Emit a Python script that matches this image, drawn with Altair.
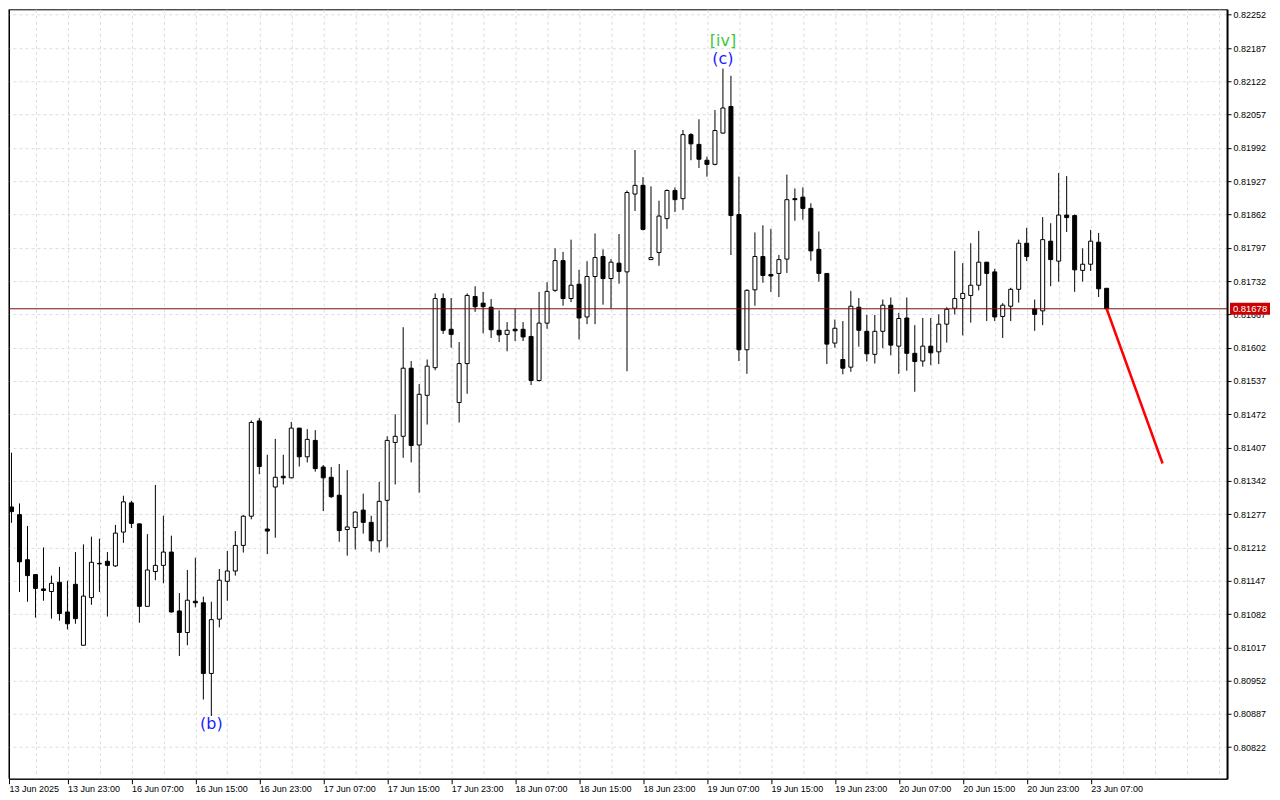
import altair as alt
import pandas as pd

# ---------------- data (hourly bars) ----------------
bar_index = list(range(0, 138))  # bar 0 = 13 Jun 16:00

opens = [
    0.81291, 0.81276, 0.81188, 0.81159, 0.81131, 0.81126, 0.81144, 0.81086, 0.81140, 0.81021,
    0.81114, 0.81181, 0.81185, 0.81176, 0.81242, 0.81299, 0.81258, 0.81097, 0.81165, 0.81177,
    0.81203, 0.81088, 0.81046, 0.81107, 0.81104, 0.80966, 0.81072, 0.81146, 0.81166, 0.81216,
    0.81273, 0.81459, 0.81248, 0.81330, 0.81351, 0.81348, 0.81445, 0.81389, 0.81421, 0.81369,
    0.81349, 0.81314, 0.81247, 0.81251, 0.81285, 0.81261, 0.81225, 0.81304, 0.81417, 0.81429,
    0.81562, 0.81412, 0.81509, 0.81563, 0.81698, 0.81638, 0.81495, 0.81571, 0.81702, 0.81689,
    0.81681, 0.81636, 0.81628, 0.81638, 0.81638, 0.81624, 0.81538, 0.81650, 0.81714, 0.81772,
    0.81698, 0.81726, 0.81662, 0.81741, 0.81780, 0.81737, 0.81767, 0.81750, 0.81902, 0.81919,
    0.81774, 0.81788, 0.81854, 0.81909, 0.81893, 0.82018, 0.81999, 0.81968, 0.81960, 0.82021,
    0.82073, 0.81862, 0.81598, 0.81715, 0.81780, 0.81745, 0.81747, 0.81775, 0.81893, 0.81896,
    0.81874, 0.81794, 0.81747, 0.81611, 0.81579, 0.81564, 0.81681, 0.81634, 0.81589, 0.81634,
    0.81685, 0.81605, 0.81660, 0.81591, 0.81576, 0.81605, 0.81594, 0.81648, 0.81679, 0.81698,
    0.81704, 0.81724, 0.81769, 0.81750, 0.81663, 0.81683, 0.81716, 0.81806, 0.81678, 0.81674,
    0.81810, 0.81771, 0.81861, 0.81860, 0.81753, 0.81765, 0.81808, 0.81718,
]
highs = [
    0.81397, 0.81298, 0.81254, 0.81160, 0.81212, 0.81157, 0.81174, 0.81147, 0.81203, 0.81218,
    0.81233, 0.81229, 0.81203, 0.81256, 0.81313, 0.81303, 0.81259, 0.81238, 0.81334, 0.81274,
    0.81235, 0.81123, 0.81168, 0.81192, 0.81116, 0.81106, 0.81170, 0.81205, 0.81244, 0.81275,
    0.81460, 0.81465, 0.81393, 0.81424, 0.81393, 0.81457, 0.81445, 0.81443, 0.81441, 0.81373,
    0.81369, 0.81375, 0.81363, 0.81283, 0.81317, 0.81274, 0.81340, 0.81429, 0.81472, 0.81642,
    0.81576, 0.81531, 0.81579, 0.81708, 0.81708, 0.81699, 0.81613, 0.81708, 0.81722, 0.81711,
    0.81697, 0.81675, 0.81652, 0.81678, 0.81652, 0.81678, 0.81711, 0.81730, 0.81796, 0.81789,
    0.81813, 0.81754, 0.81771, 0.81825, 0.81794, 0.81775, 0.81824, 0.81909, 0.81988, 0.81935,
    0.81917, 0.81889, 0.81911, 0.81915, 0.82027, 0.82021, 0.82048, 0.81975, 0.82066, 0.82147,
    0.82133, 0.81936, 0.81716, 0.81827, 0.81841, 0.81834, 0.81783, 0.81940, 0.81913, 0.81915,
    0.81884, 0.81829, 0.81747, 0.81657, 0.81654, 0.81713, 0.81699, 0.81666, 0.81666, 0.81696,
    0.81700, 0.81670, 0.81700, 0.81646, 0.81660, 0.81660, 0.81667, 0.81681, 0.81791, 0.81767,
    0.81806, 0.81830, 0.81769, 0.81756, 0.81689, 0.81719, 0.81813, 0.81836, 0.81696, 0.81857,
    0.81845, 0.81943, 0.81937, 0.81862, 0.81796, 0.81832, 0.81826, 0.81718,
]
lows = [
    0.81260, 0.81125, 0.81106, 0.81075, 0.81108, 0.81073, 0.81069, 0.81052, 0.81063, 0.81021,
    0.81100, 0.81125, 0.81077, 0.81174, 0.81221, 0.81250, 0.81065, 0.81097, 0.81148, 0.81142,
    0.81085, 0.81000, 0.81021, 0.81095, 0.80915, 0.80883, 0.81056, 0.81108, 0.81157, 0.81202,
    0.81267, 0.81355, 0.81199, 0.81231, 0.81335, 0.81347, 0.81370, 0.81378, 0.81360, 0.81283,
    0.81309, 0.81223, 0.81196, 0.81208, 0.81239, 0.81204, 0.81202, 0.81212, 0.81335, 0.81387,
    0.81378, 0.81319, 0.81452, 0.81558, 0.81629, 0.81602, 0.81456, 0.81512, 0.81672, 0.81630,
    0.81621, 0.81613, 0.81595, 0.81615, 0.81615, 0.81529, 0.81536, 0.81639, 0.81711, 0.81684,
    0.81691, 0.81618, 0.81648, 0.81648, 0.81686, 0.81678, 0.81727, 0.81556, 0.81869, 0.81831,
    0.81774, 0.81762, 0.81834, 0.81867, 0.81871, 0.81968, 0.81953, 0.81936, 0.81958, 0.82020,
    0.81783, 0.81576, 0.81551, 0.81684, 0.81729, 0.81711, 0.81701, 0.81748, 0.81850, 0.81852,
    0.81772, 0.81731, 0.81570, 0.81602, 0.81550, 0.81555, 0.81604, 0.81575, 0.81571, 0.81601,
    0.81587, 0.81551, 0.81557, 0.81516, 0.81565, 0.81568, 0.81570, 0.81612, 0.81667, 0.81626,
    0.81651, 0.81714, 0.81654, 0.81654, 0.81621, 0.81654, 0.81690, 0.81771, 0.81635, 0.81646,
    0.81722, 0.81731, 0.81828, 0.81711, 0.81731, 0.81752, 0.81701, 0.81678,
]
closes = [
    0.81282, 0.81184, 0.81157, 0.81132, 0.81128, 0.81142, 0.81083, 0.81063, 0.81073, 0.81117,
    0.81183, 0.81180, 0.81177, 0.81240, 0.81301, 0.81259, 0.81097, 0.81168, 0.81177, 0.81203,
    0.81086, 0.81046, 0.81109, 0.81104, 0.80966, 0.81071, 0.81148, 0.81166, 0.81216, 0.81273,
    0.81456, 0.81370, 0.81244, 0.81349, 0.81348, 0.81445, 0.81389, 0.81423, 0.81366, 0.81348,
    0.81311, 0.81245, 0.81252, 0.81281, 0.81261, 0.81225, 0.81302, 0.81421, 0.81429, 0.81562,
    0.81411, 0.81511, 0.81566, 0.81698, 0.81636, 0.81628, 0.81571, 0.81704, 0.81682, 0.81682,
    0.81637, 0.81627, 0.81636, 0.81635, 0.81623, 0.81538, 0.81650, 0.81712, 0.81772, 0.81698,
    0.81724, 0.81660, 0.81741, 0.81778, 0.81737, 0.81769, 0.81751, 0.81905, 0.81919, 0.81833,
    0.81778, 0.81859, 0.81909, 0.81891, 0.82018, 0.82000, 0.81970, 0.81960, 0.82026, 0.82070,
    0.81860, 0.81598, 0.81714, 0.81780, 0.81743, 0.81742, 0.81774, 0.81891, 0.81891, 0.81874,
    0.81791, 0.81747, 0.81609, 0.81640, 0.81562, 0.81683, 0.81636, 0.81590, 0.81634, 0.81685,
    0.81607, 0.81659, 0.81591, 0.81575, 0.81605, 0.81592, 0.81648, 0.81677, 0.81698, 0.81708,
    0.81724, 0.81769, 0.81747, 0.81662, 0.81685, 0.81716, 0.81806, 0.81780, 0.81667, 0.81813,
    0.81774, 0.81861, 0.81856, 0.81754, 0.81765, 0.81810, 0.81717, 0.81678,
]

# time axis labels (bar index of each label)
time_tick_bars = [-0.3125, 7, 15, 23, 31, 39, 47, 55, 63, 71, 79, 87, 95, 103, 111, 119, 127, 135]
time_tick_labels = [
    "13 Jun 2025", "13 Jun 23:00", "16 Jun 07:00", "16 Jun 15:00", "16 Jun 23:00",
    "17 Jun 07:00", "17 Jun 15:00", "17 Jun 23:00", "18 Jun 07:00", "18 Jun 15:00",
    "18 Jun 23:00", "19 Jun 07:00", "19 Jun 15:00", "19 Jun 23:00", "20 Jun 07:00",
    "20 Jun 15:00", "20 Jun 23:00", "23 Jun 07:00",
]
grid_bars = list(range(3, 152, 4))

price_ticks = [
    0.82252, 0.82187, 0.82122, 0.82057, 0.81992, 0.81927, 0.81862, 0.81797, 0.81732,
    0.81667, 0.81602, 0.81537, 0.81472, 0.81407, 0.81342, 0.81277, 0.81212, 0.81147,
    0.81082, 0.81017, 0.80952, 0.80887, 0.80822,
]

last_price = [0.81678]

forecast_bars = [137, 144]
forecast_prices = [0.81678, 0.81376]

wave_bars = [25, 89, 89]
wave_prices = [0.80868, 0.82200, 0.82165]
wave_texts = ["(b)", "[iv]", "(c)"]
wave_colors = ["#1c1cff", "#3cc83c", "#1c1cff"]

# ---------------- tables ----------------
candles = pd.DataFrame({"k": bar_index, "open": opens, "high": highs,
                        "low": lows, "close": closes})
last_df = pd.DataFrame({"price": last_price, "label": ["%.5f" % p for p in last_price]})
forecast_df = pd.DataFrame({"k": forecast_bars, "price": forecast_prices})
wave_df = pd.DataFrame({"k": wave_bars, "price": wave_prices,
                        "text": wave_texts, "color": wave_colors})

# ---------------- scales / axes ----------------
X_MIN, X_MAX = -0.3125, 152.0625
xscale = alt.Scale(domain=[X_MIN, X_MAX], nice=False, zero=False, padding=0)
yscale = alt.Scale(domain=[0.807605, 0.822627], nice=False, zero=False, padding=0)

label_expr = ""
for b, t in zip(time_tick_bars, time_tick_labels):
    label_expr += "datum.value == %s ? '%s' : " % (repr(b), t)
label_expr += "''"
label_test = " || ".join("datum.value == %s" % repr(b) for b in time_tick_bars)

x_axis = alt.Axis(
    values=sorted(set(time_tick_bars + grid_bars)),
    labelExpr=label_expr,
    labelAlign="left",
    labelAngle=0,
    labelFlush=False,
    labelOverlap=False,
    labelPadding=1,
    labelFont="Liberation Sans",
    labelFontSize=9,
    labelColor="black",
    tickSize=5,
    tickColor="black",
    tickOpacity={"condition": {"test": label_test, "value": 1}, "value": 0},
    domainColor="black",
    domainWidth=1,
    grid=True,
    gridColor="#dddddd",
    gridDash=[3, 3],
    gridWidth=1,
    gridOpacity={"condition": {"test": "datum.value < 0", "value": 0}, "value": 1},
    title=None,
)
y_axis = alt.Axis(
    orient="right",
    values=price_ticks,
    labelExpr="format(datum.value, '.5f')",
    labelFont="Liberation Sans",
    labelFontSize=9,
    labelColor="black",
    labelPadding=2,
    tickSize=4,
    tickColor="black",
    domainColor="black",
    domainWidth=2,
    grid=True,
    gridColor="#dddddd",
    gridDash=[3, 3],
    gridWidth=1,
    title=None,
)

X = alt.X("k:Q", scale=xscale, axis=x_axis)


def Y(field):
    return alt.Y(field, scale=yscale, axis=y_axis)


# left frame line of the plot area
frame_left = alt.Chart(pd.DataFrame({"k": [X_MIN]})).mark_rule(
    color="black", strokeWidth=1).encode(x=X)

wicks = alt.Chart(candles).mark_rule(color="black", strokeWidth=1).encode(
    x=X,
    y=Y("low:Q"),
    y2="high:Q",
)
bodies = alt.Chart(candles).mark_bar(size=4, stroke="black", strokeWidth=1).encode(
    x=X,
    y=Y("open:Q"),
    y2="close:Q",
    fill=alt.condition("datum.close > datum.open", alt.value("white"), alt.value("black")),
)
price_line = alt.Chart(last_df).mark_rule(color="#7a1010", strokeWidth=1).encode(
    y=Y("price:Q"),
)
forecast = alt.Chart(forecast_df).mark_line(color="#ff0000", strokeWidth=2.5).encode(
    x=X,
    y=Y("price:Q"),
)
waves = alt.Chart(wave_df).mark_text(font="DejaVu Sans", fontSize=16,
                                     baseline="middle", align="center").encode(
    x=X,
    y=Y("price:Q"),
    text="text:N",
    color=alt.Color("color:N", scale=None),
)
tag_box = alt.Chart(last_df).mark_rect(color="#cc0000", yOffset=-6, y2Offset=6).encode(
    x=alt.value(1222),
    x2=alt.value(1262),
    y=Y("price:Q"),
    y2="price:Q",
)
tag_text = alt.Chart(last_df).mark_text(font="Liberation Sans", fontSize=9.5, color="white",
                                        align="center", baseline="middle").encode(
    x=alt.value(1242),
    y=Y("price:Q"),
    text="label:N",
)

chart = alt.layer(
    frame_left, wicks, bodies, price_line, forecast, waves, tag_box, tag_text
).properties(
    width=1219,
    height=770,
    padding={"left": 0, "top": 0, "right": 2, "bottom": 2},
    background="white",
).configure_view(
    stroke="black",
    strokeWidth=1,
)

chart.save("out.html", embed_options={"renderer": "svg", "actions": False})
